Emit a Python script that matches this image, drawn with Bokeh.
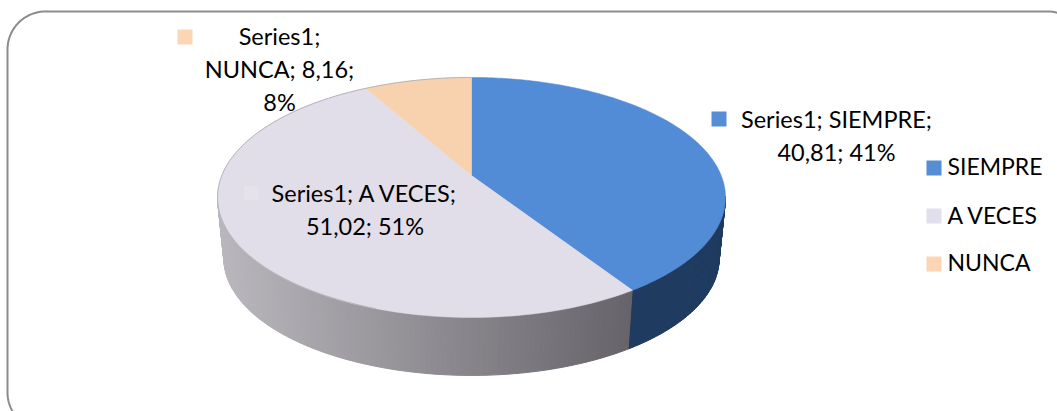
import numpy as np
from bokeh.embed import file_html
from bokeh.models import ColumnDataSource, Range1d
from bokeh.plotting import figure
from bokeh.resources import INLINE
from bokeh.core.properties import value

categories = ["SIEMPRE", "A VECES", "NUNCA"]
values = [40.81, 51.02, 8.16]
percents = ["41%", "51%", "8%"]
value_labels = ["40,81", "51,02", "8,16"]
series_name = "Series1"

top_colors = ["#528BD6", "#E1DDE9", "#F8D2AF"]
key_colors = ["#558ED5", "#E2DFEC", "#FCD5B5"]
FONT = "Lato"
LABEL_SIZE = "23.5px"
LEGEND_SIZE = "23px"
TEXT_RAISE = 10.0

W, H = 1057, 411
p = figure(width=W, height=H, output_backend="svg", toolbar_location=None,
           x_range=Range1d(0, W), y_range=Range1d(H, 0),
           min_border=0, outline_line_color=None)
p.axis.visible = False
p.grid.visible = False
p.background_fill_color = "#FFFFFF"
p.border_fill_color = "#FFFFFF"


def project(theta, scale=1.0, apex_y=175.0):
    """Perspective view of a disc; theta runs clockwise from the back of the disc."""
    k = 0.183
    sx, sy = 249.7 * scale, 116.0 * scale
    depth = np.cos(theta)
    w = 1 + k * depth
    return 471.0 + sx * np.sin(theta) / w, apex_y - sy * depth / w


def lerp_hex(a, b, t):
    ca = np.array([int(a[i:i + 2], 16) for i in (1, 3, 5)], float)
    cb = np.array([int(b[i:i + 2], 16) for i in (1, 3, 5)], float)
    c = ca + (cb - ca) * t
    return "#%02x%02x%02x" % tuple(int(round(v)) for v in c)


# chart frame with rounded corners, running past the window on the right and below
r = 38
L, T, R, B = 7.0, 11.0, 1085.0, 430.0
arc = np.linspace(0, np.pi / 2, 24)
frame_x = np.concatenate([L + r - r * np.cos(arc), R - r + r * np.sin(arc),
                          R - r + r * np.cos(arc), L + r - r * np.sin(arc), [L]])
frame_y = np.concatenate([T + r - r * np.sin(arc), T + r - r * np.cos(arc),
                          B - r + r * np.sin(arc), B - r + r * np.cos(arc), [T + r]])
p.line(frame_x, frame_y, line_color="#8C8C8C", line_width=2)

total = sum(values)
edges = np.concatenate([[0], np.cumsum(values) / total * 2 * np.pi])

# side wall: thin strips between the top disc and the lower disc
WALL_SCALE, WALL_APEX = 0.975, 236.5
steps = np.linspace(np.radians(100), np.radians(260), 161)
xs, ys, cols = [], [], []
for a, b in zip(steps[:-1], steps[1:]):
    tx0, ty0 = project(a)
    tx1, ty1 = project(b)
    bx0, by0 = project(a, WALL_SCALE, WALL_APEX)
    bx1, by1 = project(b, WALL_SCALE, WALL_APEX)
    xs.append([tx0, tx1, bx1, bx0])
    ys.append([ty0, ty1, by1, by0])
    mid = 0.5 * (a + b)
    if mid < edges[1]:
        cols.append("#1F3B60")
    else:
        t = (0.5 * (bx0 + bx1) - 222) / (627 - 222)
        cols.append(lerp_hex("#BAB7BD", "#67636A", min(max(t, 0), 1)))
p.patches(xs, ys, fill_color=cols, line_color=cols, line_width=1.0)

# top surface of the pie, one wedge per category
for start, stop, color in zip(edges[:-1], edges[1:], top_colors):
    th = np.linspace(start, stop, 160)
    ex, ey = project(th)
    ax, ay = project(np.array([np.pi / 2]), 0.0)
    p.patch(np.concatenate([ax, ex]), np.concatenate([ay, ey]),
            fill_color=color, line_color=color, line_width=0.5)

# faint rim along the back of the disc
rim = np.linspace(edges[1] + 0.9, 2 * np.pi, 160)
rx, ry = project(rim)
p.line(rx, ry, line_color="#B4B2B6", line_width=1)

# legend on the right
key_size = 15
legend_y = [160.0, 208.0, 256.0]
p.quad(left=[926.0] * 3, right=[926.0 + key_size] * 3,
       top=legend_y, bottom=[y + key_size for y in legend_y],
       fill_color=key_colors, line_color=None)
source = ColumnDataSource(dict(tx=[947.0] * 3,
                               ty=[v - TEXT_RAISE for v in (175.0, 224.0, 271.0)],
                               name=categories))
p.text("tx", "ty", text="name", source=source, text_font=value(FONT),
       text_font_size=value(LEGEND_SIZE), text_color="#000000", text_baseline="alphabetic")

# data labels with their small colour keys
s, a, n = range(3)
label_lines = [
    (836, 128, f"{series_name}; {categories[s]};"),
    (836, 161, f"{value_labels[s]}; {percents[s]}"),
    (364.5, 202, f"{series_name}; {categories[a]};"),
    (364.5, 235, f"{value_labels[a]}; {percents[a]}"),
    (279, 45, f"{series_name};"),
    (279, 78, f"{categories[n]}; {value_labels[n]};"),
    (279, 111, percents[n]),
]
p.text([l[0] for l in label_lines], [l[1] - TEXT_RAISE for l in label_lines],
       text=[l[2] for l in label_lines], text_font=value(FONT),
       text_font_size=value(LABEL_SIZE), text_color="#000000",
       text_align="center", text_baseline="alphabetic")
key_left = [711.0, 243.0, 177.0]
key_top = [111.0, 185.0, 29.0]
p.quad(left=key_left, right=[v + key_size for v in key_left],
       top=key_top, bottom=[v + key_size for v in key_top],
       fill_color=[key_colors[s], "#E5E2EC", key_colors[n]], line_color=None)

open("out.html", "w").write(file_html(p, INLINE))
